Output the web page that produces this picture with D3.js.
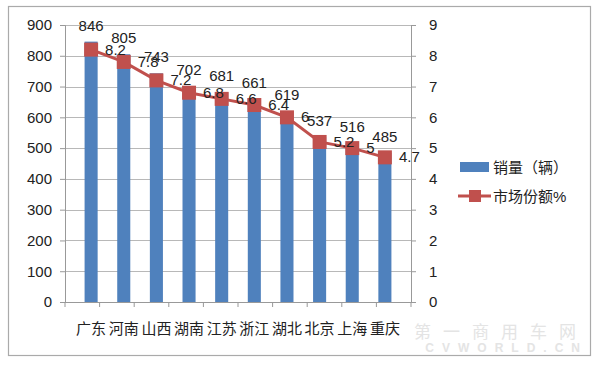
<!DOCTYPE html>
<html>
<head>
<meta charset="utf-8">
<script src="https://cdn.jsdelivr.net/npm/d3@7"></script>
<style>
  body { margin: 0; background: #fff; }
  text { font-family: "Liberation Sans", "Noto Sans CJK SC", sans-serif; fill: #222; }
</style>
</head>
<body>
<svg width="600" height="367"></svg>
<script>
// provinces, sales volume and market share
const provinces = ["广东", "河南", "山西", "湖南", "江苏", "浙江", "湖北", "北京", "上海", "重庆"];
const sales = [846, 805, 743, 702, 681, 661, 619, 537, 516, 485];
const share = [8.2, 7.8, 7.2, 6.8, 6.6, 6.4, 6, 5.2, 5, 4.7];
const leftTicks = [0, 100, 200, 300, 400, 500, 600, 700, 800, 900];
const rightTicks = [0, 1, 2, 3, 4, 5, 6, 7, 8, 9];

const svg = d3.select("svg");
const plotLeft = 65, plotRight = 411, plotTop = 25, plotBottom = 302;
const barColor = "#4F81BD", lineColor = "#C0504D";

// outer frame
svg.append("rect")
  .attr("x", 8.5).attr("y", 6.5)
  .attr("width", 582).attr("height", 349)
  .attr("fill", "#fff").attr("stroke", "#aaa").attr("stroke-width", 1.2);

const x = d3.scaleBand().domain(provinces).range([plotLeft, plotRight]).padding(0.6);
const yL = d3.scaleLinear().domain([0, 900]).range([plotBottom, plotTop]);
const yR = d3.scaleLinear().domain([0, 9]).range([plotBottom, plotTop]);

// gridlines
svg.append("g").selectAll("line").data(leftTicks.slice(1)).enter().append("line")
  .attr("x1", plotLeft).attr("x2", plotRight)
  .attr("y1", d => Math.round(yL(d)) + 0.5).attr("y2", d => Math.round(yL(d)) + 0.5)
  .attr("stroke", "#b8b8b8");

// left axis
const axL = svg.append("g").attr("transform", `translate(${plotLeft},0)`)
  .call(d3.axisLeft(yL).tickValues(leftTicks).tickSize(5).tickPadding(8));
// right axis
const axR = svg.append("g").attr("transform", `translate(${plotRight},0)`)
  .call(d3.axisRight(yR).tickValues(rightTicks).tickSize(5).tickPadding(13));
[axL, axR].forEach(g => {
  g.select(".domain").attr("stroke", "#999");
  g.selectAll(".tick line").attr("stroke", "#999");
  g.selectAll(".tick text").attr("font-size", 15).attr("fill", "#222");
});

// bottom axis with ticks at band edges
const n = provinces.length;
svg.append("line").attr("x1", plotLeft).attr("x2", plotRight)
  .attr("y1", plotBottom + 0.5).attr("y2", plotBottom + 0.5).attr("stroke", "#999");
svg.append("g").selectAll("line").data(d3.range(n + 1)).enter().append("line")
  .attr("x1", i => plotLeft + i * (plotRight - plotLeft) / n)
  .attr("x2", i => plotLeft + i * (plotRight - plotLeft) / n)
  .attr("y1", plotBottom).attr("y2", plotBottom + 5).attr("stroke", "#999");
svg.append("g").selectAll("text").data(provinces).enter().append("text")
  .attr("x", d => x(d) + x.bandwidth() / 2)
  .attr("y", 334)
  .attr("text-anchor", "middle")
  .attr("font-size", 15)
  .attr("font-family", "Noto Sans CJK SC")
  .text(d => d);

// bars
svg.append("g").selectAll("rect").data(sales).enter().append("rect")
  .attr("x", (d, i) => x(provinces[i]))
  .attr("y", d => yL(d))
  .attr("width", x.bandwidth())
  .attr("height", d => plotBottom - yL(d))
  .attr("fill", barColor);

// line
const line = d3.line()
  .x((d, i) => x(provinces[i]) + x.bandwidth() / 2)
  .y(d => yR(d));
svg.append("path").datum(share)
  .attr("d", line)
  .attr("fill", "none").attr("stroke", lineColor).attr("stroke-width", 3);
svg.append("g").selectAll("rect").data(share).enter().append("rect")
  .attr("x", (d, i) => x(provinces[i]) + x.bandwidth() / 2 - 7)
  .attr("y", d => yR(d) - 7)
  .attr("width", 14).attr("height", 14)
  .attr("fill", lineColor);

// bar labels
svg.append("g").selectAll("text").data(sales).enter().append("text")
  .attr("x", (d, i) => x(provinces[i]) + x.bandwidth() / 2)
  .attr("y", d => yL(d) - 11)
  .attr("text-anchor", "middle")
  .attr("font-size", 15)
  .text(d => d);

// share labels
svg.append("g").selectAll("text").data(share).enter().append("text")
  .attr("x", (d, i) => x(provinces[i]) + x.bandwidth() / 2 + 14)
  .attr("y", d => yR(d) + 5)
  .attr("font-size", 15)
  .text(d => d);

// legend
const lg = svg.append("g");
lg.append("rect").attr("x", 460).attr("y", 162).attr("width", 29).attr("height", 10).attr("fill", barColor);
lg.append("text").attr("x", 493).attr("y", 173).attr("font-size", 15)
  .attr("font-family", "Noto Sans CJK SC").text("销量（辆）");
lg.append("line").attr("x1", 458).attr("x2", 491).attr("y1", 196).attr("y2", 196)
  .attr("stroke", lineColor).attr("stroke-width", 3);
lg.append("rect").attr("x", 469).attr("y", 190).attr("width", 12).attr("height", 12).attr("fill", lineColor);
lg.append("text").attr("x", 493).attr("y", 202).attr("font-size", 15)
  .attr("font-family", "Noto Sans CJK SC").text("市场份额%");

// watermark
svg.append("text").attr("x", 588).attr("y", 338).attr("text-anchor", "end")
  .attr("font-size", 17).attr("letter-spacing", 12).attr("font-family", "Noto Sans CJK SC")
  .style("fill", "#e4e4e4").text("第一商用车网");
svg.append("text").attr("x", 588).attr("y", 352).attr("text-anchor", "end")
  .attr("font-size", 12).attr("font-weight", "bold").attr("letter-spacing", 8)
  .style("fill", "#e4e4e4").text("CVWORLD.CN");
</script>
</body>
</html>
